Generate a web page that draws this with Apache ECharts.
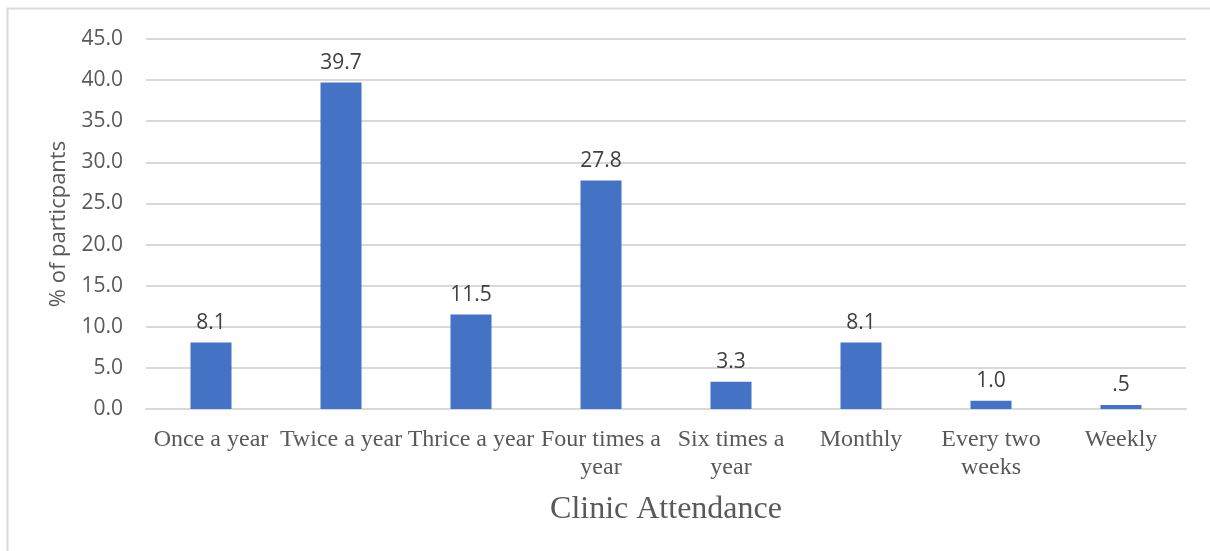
<!DOCTYPE html>
<html>
<head>
<meta charset="utf-8">
<script src="https://cdn.jsdelivr.net/npm/echarts@6/dist/echarts.min.js"></script>
<style>html,body{margin:0;padding:0;background:#fff}#c{width:1210px;height:551px}</style>
</head>
<body>
<div id="c"></div>
<script>
const categories = ['Once a year', 'Twice a year', 'Thrice a year', 'Four times a\nyear', 'Six times a\nyear', 'Monthly', 'Every two\nweeks', 'Weekly'];
const values = [8.1, 39.7, 11.5, 27.8, 3.3, 8.1, 1.0, 0.5];
const valueLabels = ['8.1', '39.7', '11.5', '27.8', '3.3', '8.1', '1.0', '.5'];

const chart = echarts.init(document.getElementById('c'), null, {renderer: 'canvas'});
chart.setOption({
  animation: false,
  backgroundColor: '#fff',
  graphic: [{
    type: 'rect', shape: {x: 7.5, y: 8.5, width: 1300, height: 600},
    style: {fill: 'none', stroke: '#d9d9d9', lineWidth: 2}, silent: true, z: -1
  }],
  grid: {left: 146, right: 24, top: 39, bottom: 142},
  xAxis: {
    type: 'category',
    data: categories,
    axisLine: {show: true, lineStyle: {color: '#d9d9d9', width: 2}},
    axisTick: {show: false},
    axisLabel: {
      interval: 0, margin: 17, color: '#595959',
      fontFamily: 'Liberation Serif', fontSize: 24, lineHeight: 28
    },
    name: 'Clinic Attendance',
    nameLocation: 'middle',
    nameGap: 85,
    nameTextStyle: {color: '#595959', fontFamily: 'Liberation Serif', fontSize: 32}
  },
  yAxis: {
    type: 'value', min: 0, max: 45, interval: 5,
    axisLine: {show: false}, axisTick: {show: false},
    splitLine: {lineStyle: {color: '#d9d9d9', width: 2}},
    axisLabel: {
      margin: 23, color: '#595959', fontFamily: 'Open Sans', fontSize: 21,
      formatter: v => v.toFixed(1)
    },
    name: '% of particpants',
    nameLocation: 'middle',
    nameGap: 76,
    nameTextStyle: {color: '#595959', fontFamily: 'Open Sans', fontSize: 22}
  },
  series: [{
    type: 'bar',
    data: values,
    barWidth: 41,
    itemStyle: {color: '#4472C4'},
    label: {
      show: true, position: 'top', distance: 9,
      color: '#404040', fontFamily: 'Open Sans', fontSize: 21,
      formatter: p => valueLabels[p.dataIndex]
    }
  }]
});
</script>
</body>
</html>
